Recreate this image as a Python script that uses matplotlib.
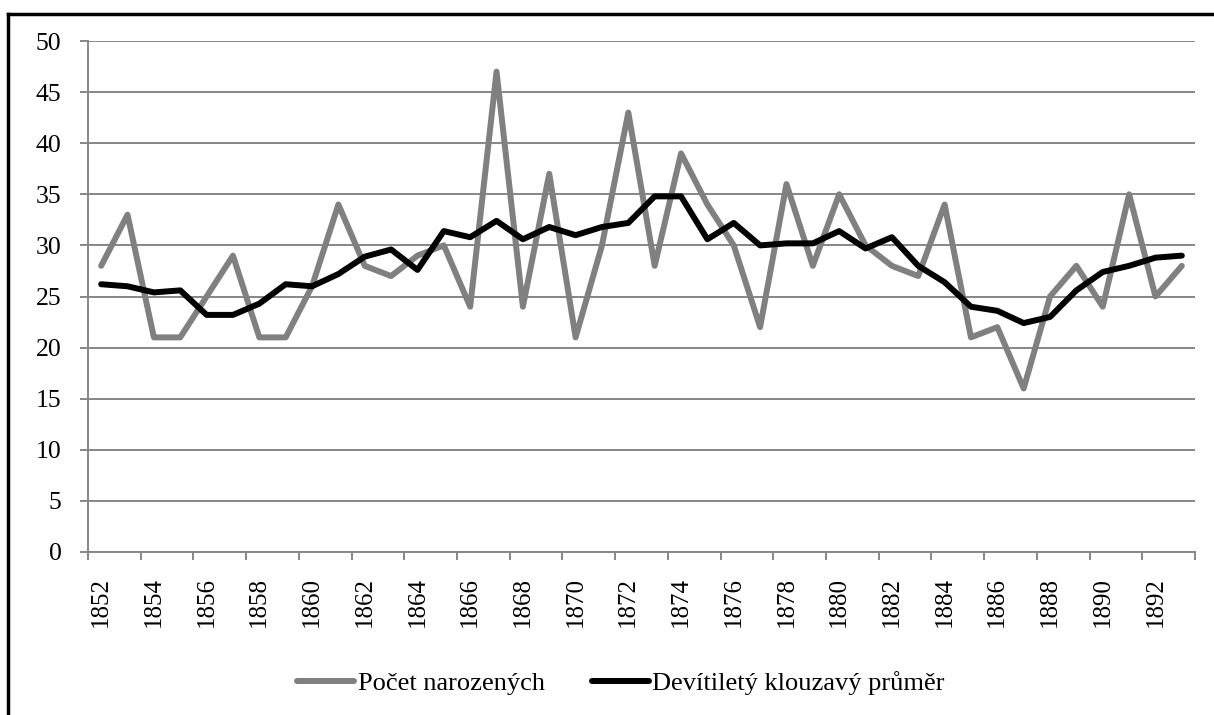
import numpy as np
import matplotlib
matplotlib.use("Agg")
import matplotlib.pyplot as plt
from matplotlib.lines import Line2D

# data
years = list(range(1852, 1894))
births = [28, 33, 21, 21, 25, 29, 21, 21, 26, 34,
          28, 27, 29, 30, 24, 47, 24, 37, 21, 30,
          43, 28, 39, 34, 30, 22, 36, 28, 35, 30,
          28, 27, 34, 21, 22, 16, 25, 28, 24, 35,
          25, 28]
moving_avg = [26.2, 26.0, 25.4, 25.6, 23.2, 23.2, 24.3, 26.2, 26.0, 27.2,
              28.9, 29.6, 27.6, 31.4, 30.8, 32.4, 30.6, 31.8, 31.0, 31.8,
              32.2, 34.8, 34.8, 30.6, 32.2, 30.0, 30.2, 30.2, 31.4, 29.7,
              30.8, 28.0, 26.4, 24.0, 23.6, 22.4, 23.0, 25.6, 27.4, 28.0,
              28.8, 29.0]
y_ticks = list(range(0, 51, 5))
label_births = "Počet narozených"
label_avg = "Devítiletý klouzavý průměr"

plt.rcParams['font.family'] = ['Liberation Serif', 'DejaVu Serif']

W, H = 1214, 715
fig = plt.figure(figsize=(W / 100, H / 100), dpi=100)
ax = fig.add_axes([88 / W, (H - 552) / H, (1195 - 88) / W, (552 - 41) / H])

grid_c = "#868686"
x = np.arange(len(years))

ax.plot(x, births, color="#808080", lw=4.3, solid_joinstyle="round",
        solid_capstyle="round", label=label_births, zorder=3)
ax.plot(x, moving_avg, color="black", lw=4.3, solid_joinstyle="round",
        solid_capstyle="round", label=label_avg, zorder=4)

ax.set_xlim(-0.5, len(years) - 0.5)
ax.set_ylim(0, 50)

ax.set_yticks(y_ticks)
ax.set_yticklabels([str(v) for v in y_ticks], fontsize=18.5)
ax.yaxis.grid(True, color=grid_c, lw=1.4)
ax.set_axisbelow(True)
ax.tick_params(axis="y", length=6, width=1.4, color=grid_c, pad=13)

# tick marks between categories, labels every second year
ax.set_xticks(np.arange(-0.5, len(years), 2))
ax.set_xticklabels([])
ax.tick_params(axis="x", which="major", length=6, width=1.4, color=grid_c)
ax.set_xticks(x[::2], minor=True)
ax.set_xticklabels([str(y) for y in years[::2]], minor=True, rotation=90,
                   fontsize=18)
ax.tick_params(axis="x", which="minor", length=0, pad=18)

for s in ["top", "right"]:
    ax.spines[s].set_visible(False)
for s in ["left", "bottom"]:
    ax.spines[s].set_color(grid_c)
    ax.spines[s].set_linewidth(1.4)

leg = fig.legend(loc="center", bbox_to_anchor=(621 / W, (H - 683) / H),
                 ncol=2, frameon=False, fontsize=19, handlelength=2.15,
                 handletextpad=0.13, columnspacing=1.8)

# outer frame (only top and left edges are visible in the picture)
fig.add_artist(Line2D([8 / W, 8 / W], [0, (H - 14) / H], color="black",
                      lw=2.5, transform=fig.transFigure))
fig.add_artist(Line2D([8 / W, 1], [(H - 14) / H, (H - 14) / H], color="black",
                      lw=2.5, transform=fig.transFigure))

fig.savefig("out.png", dpi=100)
